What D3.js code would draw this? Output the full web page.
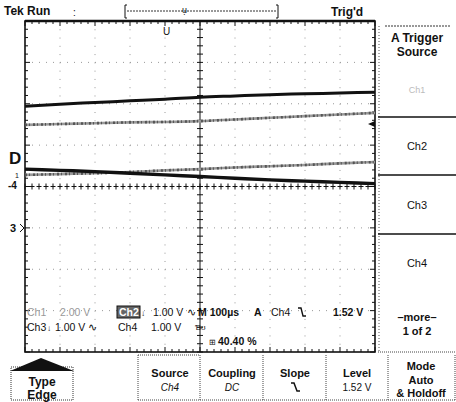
<!DOCTYPE html>
<html lang="en">
<head>
<meta charset="utf-8">
<style>
  body { margin: 0; background: #fff; }
  svg { display: block; }
  text { font-family: "Liberation Sans", Arial, sans-serif; fill: #111; }
  .bold { font-weight: bold; }
</style>
</head>
<body>
<svg width="456" height="402"></svg>
<script src="https://d3js.org/d3.v7.min.js"></script>
<script>
// ---- data (in graticule divisions) ----
var xDivs = [0, 1, 2, 3, 4, 5, 6, 7, 8, 9, 10];
var ch1Trace = [1.94, 1.99, 2.03, 2.07, 2.11, 2.16, 2.19, 2.22, 2.24, 2.26, 2.28];
var ch2Trace = [1.49, 1.51, 1.53, 1.55, 1.56, 1.58, 1.62, 1.66, 1.70, 1.74, 1.78];
var ch4Trace = [0.42, 0.39, 0.36, 0.32, 0.28, 0.24, 0.20, 0.16, 0.13, 0.10, 0.07];
var ch3Trace = [0.28, 0.30, 0.32, 0.35, 0.39, 0.42, 0.46, 0.49, 0.52, 0.56, 0.59];

var sideMenu = ["Ch2", "Ch3", "Ch4"];
var bottomMenu = [
  { top: "Source", bottom: "Ch4" },
  { top: "Coupling", bottom: "DC" },
  { top: "Slope", bottom: "" },
  { top: "Level", bottom: "1.52 V" }
];

// ---- layout ----
var svg = d3.select("svg");
var x = d3.scaleLinear().domain([0, 10]).range([25, 375]);
var y = d3.scaleLinear().domain([4, -4]).range([21, 352]);

var g = svg.append("g");

// graticule dots
var dx = (x(1) - x(0)) / 5, dy = (y(0) - y(1)) / 5;
d3.range(1, 10).filter(function(i) { return i != 5; }).forEach(function(i) {
  g.append("line").attr("x1", x(i)).attr("x2", x(i)).attr("y1", y(4)).attr("y2", y(-4))
    .attr("stroke", "#999").attr("stroke-dasharray", "1," + (dy - 1));
});
d3.range(-3, 4).filter(function(j) { return j != 0; }).forEach(function(j) {
  g.append("line").attr("x1", x(0)).attr("x2", x(10)).attr("y1", y(j)).attr("y2", y(j))
    .attr("stroke", "#999").attr("stroke-dasharray", "1," + (dx - 1));
});

// center cross lines with ticks
g.append("line").attr("x1", x(5)).attr("x2", x(5)).attr("y1", y(4)).attr("y2", y(-4))
  .attr("stroke", "#111").attr("stroke-width", 1);
g.append("line").attr("x1", x(0)).attr("x2", x(10)).attr("y1", y(0)).attr("y2", y(0))
  .attr("stroke", "#111").attr("stroke-width", 1).attr("stroke-dasharray", "5,2").attr("stroke-dashoffset", 2.5);
d3.range(0, 40.01, 1).forEach(function(k) {
  var v = 4 - k / 5;
  g.append("line").attr("x1", x(5) - 3).attr("x2", x(5) + 3).attr("y1", y(v)).attr("y2", y(v))
    .attr("stroke", "#111");
});
d3.range(0, 50.01, 1).forEach(function(k) {
  var u = k / 5;
  g.append("line").attr("x1", x(u)).attr("x2", x(u)).attr("y1", y(0) - 3).attr("y2", y(0) + 3)
    .attr("stroke", "#111");
});

// frame + edge ticks
g.append("rect").attr("x", x(0)).attr("y", y(4)).attr("width", x(10) - x(0)).attr("height", y(-4) - y(4))
  .attr("fill", "none").attr("stroke", "#111").attr("stroke-width", 1.6);
g.append("line").attr("x1", x(0)).attr("x2", x(10)).attr("y1", y(4)).attr("y2", y(4))
  .attr("stroke", "#111").attr("stroke-width", 2.4);
d3.range(0, 50.01, 1).forEach(function(k) {
  var u = k / 5, len = k % 5 == 0 ? 5 : 3;
  g.append("line").attr("x1", x(u)).attr("x2", x(u)).attr("y1", y(4)).attr("y2", y(4) + len).attr("stroke", "#111");
  g.append("line").attr("x1", x(u)).attr("x2", x(u)).attr("y1", y(-4)).attr("y2", y(-4) - len).attr("stroke", "#111");
});
d3.range(0, 40.01, 1).forEach(function(k) {
  var v = 4 - k / 5, len = k % 5 == 0 ? 5 : 3;
  g.append("line").attr("x1", x(0)).attr("x2", x(0) + len).attr("y1", y(v)).attr("y2", y(v)).attr("stroke", "#111");
  g.append("line").attr("x1", x(10)).attr("x2", x(10) - len).attr("y1", y(v)).attr("y2", y(v)).attr("stroke", "#111");
});

// traces
var line = d3.line().x(function(d, i) { return x(xDivs[i]); }).y(function(d) { return y(d); }).curve(d3.curveMonotoneX);
[ch2Trace, ch3Trace].forEach(function(tr) {
  g.append("path").datum(tr).attr("d", line).attr("fill", "none")
    .attr("stroke", "#999").attr("stroke-width", 2.6);
  g.append("path").datum(tr).attr("d", line).attr("fill", "none")
    .attr("stroke", "#555").attr("stroke-width", 2.6).attr("stroke-dasharray", "2,2,1,3");
});
g.append("path").datum(ch1Trace).attr("d", line).attr("fill", "none")
  .attr("stroke", "#111").attr("stroke-width", 3);
g.append("path").datum(ch4Trace).attr("d", line).attr("fill", "none")
  .attr("stroke", "#111").attr("stroke-width", 3.4);

// channel markers on left, ch1 arrow on right
g.append("text").attr("class", "bold").attr("x", 9).attr("y", 164).attr("font-size", 17).text("D");
g.append("text").attr("x", 15).attr("y", 178).attr("font-size", 7).text("1");
g.append("text").attr("class", "bold").attr("x", 8).attr("y", 189).attr("font-size", 10).text("-4");
g.append("text").attr("class", "bold").attr("x", 10).attr("y", 232).attr("font-size", 11).text("3");
g.append("path").attr("d", "M20,224 L24,228 L20,232").attr("fill", "none").attr("stroke", "#111");
g.append("path").attr("d", "M375,121 L368,124 L375,127 Z").attr("fill", "#111");

// trigger position marker
g.append("text").attr("x", 163).attr("y", 35).attr("font-size", 10).text("U");

// top status line
svg.append("text").attr("class", "bold").attr("x", 4).attr("y", 15).attr("font-size", 12).text("Tek Run");
svg.append("text").attr("x", 73).attr("y", 16).attr("font-size", 10).text(":");
svg.append("path").attr("d", "M127,5 L125,5 L125,18 L127,18 M276,5 L278,5 L278,18 L276,18")
  .attr("fill", "none").attr("stroke", "#111");
svg.append("line").attr("x1", 127).attr("x2", 276).attr("y1", 11).attr("y2", 11)
  .attr("stroke", "#333").attr("stroke-dasharray", "2,1");
svg.append("text").attr("x", 182).attr("y", 13).attr("font-size", 9).text("ụ");
svg.append("text").attr("class", "bold").attr("x", 331).attr("y", 16).attr("font-size", 12).text("Trig'd");

// side menu
var side = svg.append("g");
side.append("line").attr("x1", 385).attr("x2", 450).attr("y1", 26).attr("y2", 26)
  .attr("stroke", "#333").attr("stroke-dasharray", "2,1");
side.append("line").attr("x1", 379).attr("x2", 379).attr("y1", 26).attr("y2", 352)
  .attr("stroke", "#555").attr("stroke-dasharray", "1,2");
side.append("text").attr("class", "bold").attr("x", 417).attr("y", 42).attr("font-size", 12)
  .attr("text-anchor", "middle").text("A Trigger");
side.append("text").attr("class", "bold").attr("x", 417).attr("y", 56).attr("font-size", 12)
  .attr("text-anchor", "middle").text("Source");
side.append("text").attr("x", 417).attr("y", 93).attr("font-size", 9).attr("text-anchor", "middle")
  .style("fill", "#bbb").text("Ch1");
[117, 175, 234].forEach(function(yy) {
  side.append("line").attr("x1", 378).attr("x2", 456).attr("y1", yy).attr("y2", yy)
    .attr("stroke", "#111").attr("stroke-width", 1.5);
});
side.append("line").attr("x1", 378).attr("x2", 456).attr("y1", 352).attr("y2", 352)
  .attr("stroke", "#444").attr("stroke-dasharray", "1,1");
side.selectAll("text.menu").data(sideMenu).enter().append("text").attr("class", "menu")
  .attr("x", 417).attr("y", function(d, i) { return 150 + i * 58.5; })
  .attr("font-size", 11).attr("text-anchor", "middle").text(function(d) { return d; });
side.append("text").attr("class", "bold").attr("x", 417).attr("y", 321).attr("font-size", 11)
  .attr("text-anchor", "middle").text("\u2013more\u2013");
side.append("text").attr("class", "bold").attr("x", 417).attr("y", 335).attr("font-size", 11)
  .attr("text-anchor", "middle").text("1 of 2");

// bottom menu
var bot = svg.append("g");
bot.append("rect").attr("x", 11).attr("y", 367).attr("width", 62).attr("height", 33)
  .attr("fill", "none").attr("stroke", "#333").attr("stroke-dasharray", "1,1");
bot.append("path").attr("d", "M10,371 L41,358 L74,371 Z").attr("fill", "#111");
bot.append("text").attr("class", "bold").attr("x", 42).attr("y", 386).attr("font-size", 12)
  .attr("text-anchor", "middle").text("Type");
bot.append("text").attr("class", "bold").attr("x", 42).attr("y", 399).attr("font-size", 12)
  .attr("text-anchor", "middle").text("Edge");
[138, 200, 263, 326, 388, 455].forEach(function(xx) {
  bot.append("line").attr("x1", xx).attr("x2", xx).attr("y1", 355).attr("y2", 400)
    .attr("stroke", "#444").attr("stroke-dasharray", "1,1");
});
bot.append("line").attr("x1", 138).attr("x2", 456).attr("y1", 400).attr("y2", 400)
  .attr("stroke", "#444").attr("stroke-dasharray", "1,1");
bot.append("line").attr("x1", 138).attr("x2", 200).attr("y1", 355).attr("y2", 355)
  .attr("stroke", "#444").attr("stroke-dasharray", "1,1");
var cx = [170, 232, 295, 357];
bottomMenu.forEach(function(d, i) {
  bot.append("text").attr("class", "bold").attr("x", cx[i]).attr("y", 377).attr("font-size", 11)
    .attr("text-anchor", "middle").text(d.top);
  bot.append("text").attr("x", cx[i]).attr("y", 391).attr("font-size", 10)
    .attr("font-style", i < 2 ? "italic" : "normal")
    .attr("text-anchor", "middle").text(d.bottom);
});
// falling slope glyph
bot.append("path").attr("d", "M291,383 L294,383 L297,391 L300,391").attr("fill", "none")
  .attr("stroke", "#111").attr("stroke-width", 1.5);
["Mode", "Auto", "& Holdoff"].forEach(function(t, i) {
  bot.append("text").attr("class", "bold").attr("x", 421).attr("y", 370 + i * 13.5).attr("font-size", 11)
    .attr("text-anchor", "middle").text(t);
});

// readout inside graticule
var ro = svg.append("g").attr("font-size", 10.5);
ro.append("text").attr("x", 27).attr("y", 316).style("fill", "#999").text("Ch1");
ro.append("text").attr("x", 60).attr("y", 316).style("fill", "#999").text("2.00 V");
ro.append("rect").attr("x", 117).attr("y", 306).attr("width", 23).attr("height", 12)
  .attr("fill", "#666").attr("stroke", "#111");
ro.append("text").attr("class", "bold").attr("x", 119).attr("y", 316).style("fill", "#fff").text("Ch2");
ro.append("text").attr("x", 141).attr("y", 316).attr("font-size", 8).text("\u2193");
ro.append("text").attr("x", 153).attr("y", 316).text("1.00 V");
ro.append("text").attr("x", 187).attr("y", 316).text("\u223f");
ro.append("text").attr("class", "bold").attr("x", 198).attr("y", 316).text("M 100\u00b5s");
ro.append("text").attr("class", "bold").attr("x", 254).attr("y", 316).text("A");
ro.append("text").attr("x", 271).attr("y", 316).text("Ch4");
ro.append("path").attr("d", "M298,308 L301,308 L303,316 L306,316").attr("fill", "none").attr("stroke", "#111").attr("stroke-width", 1.4);
ro.append("text").attr("class", "bold").attr("x", 333).attr("y", 316).text("1.52 V");

ro.append("text").attr("x", 27).attr("y", 331).text("Ch3");
ro.append("text").attr("x", 47).attr("y", 331).attr("font-size", 8).text("\u2193");
ro.append("text").attr("x", 55).attr("y", 331).text("1.00 V");
ro.append("text").attr("x", 88).attr("y", 331).text("\u223f");
ro.append("text").attr("x", 118).attr("y", 331).text("Ch4");
ro.append("text").attr("x", 151).attr("y", 331).text("1.00 V");
ro.append("text").attr("x", 195).attr("y", 330).attr("font-size", 8).text("\u0181\u028a");
ro.append("text").attr("x", 209).attr("y", 345).attr("font-size", 8).text("\u229e");
ro.append("text").attr("class", "bold").attr("x", 218).attr("y", 345).text("40.40 %");
</script>
</body>
</html>
